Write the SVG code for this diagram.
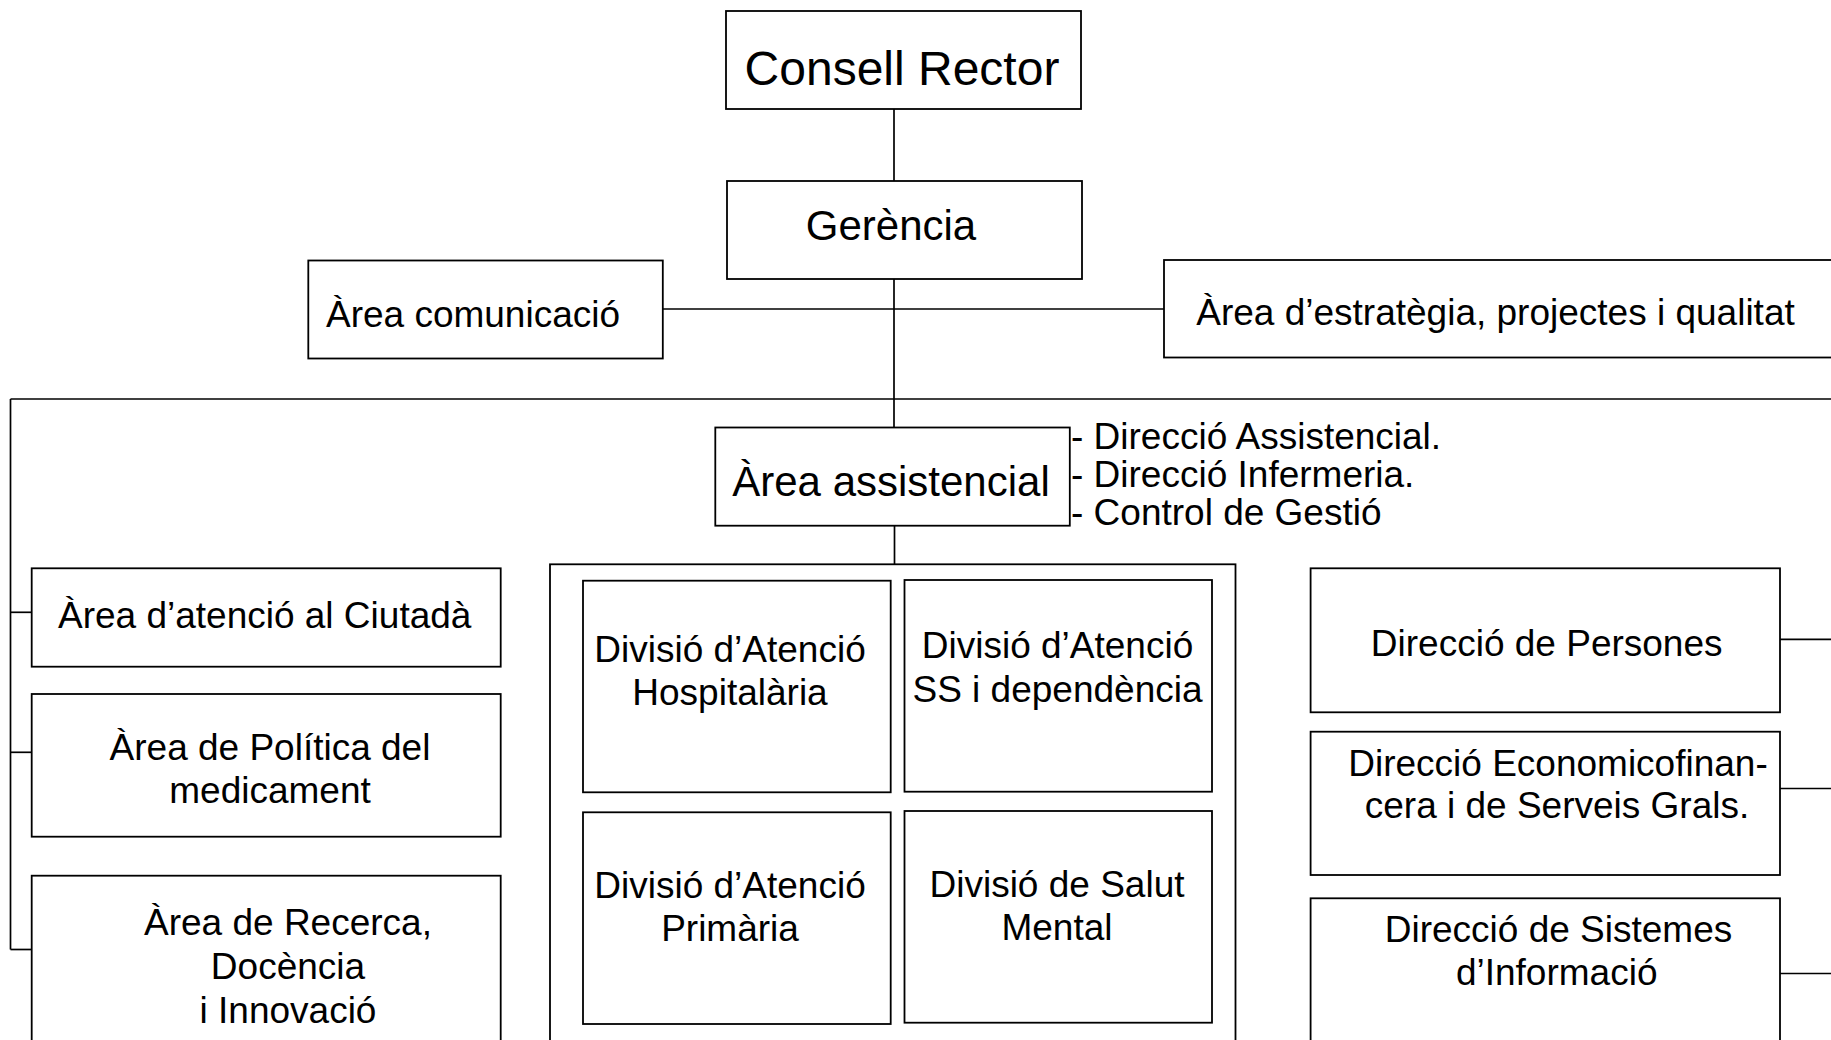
<svg xmlns="http://www.w3.org/2000/svg" width="1831" height="1040" viewBox="0 0 1831 1040">
<style>
rect.box{fill:#fff;stroke:#000;stroke-width:1.8}
rect.outer{fill:none;stroke:#000;stroke-width:1.8}
.conn line{stroke:#000;stroke-width:1.7;fill:none}
text{font-family:"Liberation Sans",Arial,sans-serif;font-size:37px;fill:#000}
text.c{text-anchor:middle}
</style>
<rect width="1831" height="1040" fill="#fff"/>
<g id="connectors" class="conn">
<line x1="894" y1="109" x2="894" y2="181"/>
<line x1="894" y1="279" x2="894" y2="427.5"/>
<line x1="663" y1="309" x2="1164" y2="309"/>
<line x1="10.5" y1="399" x2="1831" y2="399"/>
<line x1="10.5" y1="399" x2="10.5" y2="949.5"/>
<line x1="10.5" y1="612.3" x2="31.7" y2="612.3"/>
<line x1="10.5" y1="752.3" x2="31.7" y2="752.3"/>
<line x1="10.5" y1="949.5" x2="31.7" y2="949.5"/>
<line x1="894.5" y1="525.7" x2="894.5" y2="564.3"/>
<line x1="1780" y1="639.3" x2="1831" y2="639.3"/>
<line x1="1780" y1="788.5" x2="1831" y2="788.5"/>
<line x1="1780" y1="973.5" x2="1831" y2="973.5"/>
</g>
<g id="consell-rector">
<rect class="box" x="726" y="11" width="355" height="98"/>
<text class="c" x="902" y="85" style="font-size:48px">Consell Rector</text>
</g>
<g id="gerencia">
<rect class="box" x="727" y="181" width="355" height="98"/>
<text class="c" x="891" y="240" style="font-size:42px">Gerència</text>
</g>
<g id="area-comunicacio">
<rect class="box" x="308.3" y="260.5" width="354.5" height="98"/>
<text class="c" x="473" y="327">Àrea comunicació</text>
</g>
<g id="area-estrategia">
<rect class="box" x="1164" y="260" width="700" height="97.5"/>
<text class="c" x="1495.5" y="325">Àrea d’estratègia, projectes i qualitat</text>
</g>
<g id="area-assistencial">
<rect class="box" x="715.3" y="427.5" width="354.5" height="98.2"/>
<text class="c" x="891" y="496" style="font-size:42px">Àrea assistencial</text>
<text x="1071" y="449">- Direcció Assistencial.</text>
<text x="1071" y="487">- Direcció Infermeria.</text>
<text x="1071" y="525">- Control de Gestió</text>
</g>
<g id="area-atencio-ciutada">
<rect class="box" x="31.7" y="568.3" width="469" height="98.4"/>
<text class="c" x="264.7" y="628">Àrea d’atenció al Ciutadà</text>
</g>
<g id="area-politica-medicament">
<rect class="box" x="31.7" y="694" width="469" height="142.7"/>
<text class="c" x="270" y="760">Àrea de Política del</text>
<text class="c" x="270" y="802.5">medicament</text>
</g>
<g id="area-recerca">
<rect class="box" x="31.7" y="875.7" width="469" height="190"/>
<text class="c" x="288" y="934.5">Àrea de Recerca,</text>
<text class="c" x="288" y="978.5">Docència</text>
<text class="c" x="288" y="1022.5">i Innovació</text>
</g>
<g id="divisions">
<rect class="outer" x="550" y="564.3" width="685.5" height="500"/>
</g>
<g id="divisio-hospitalaria">
<rect class="box" x="583" y="580.7" width="307.7" height="211.6"/>
<text class="c" x="730" y="661.7">Divisió d’Atenció</text>
<text class="c" x="730" y="705">Hospitalària</text>
</g>
<g id="divisio-ss">
<rect class="box" x="904.5" y="580" width="307.5" height="211.7"/>
<text class="c" x="1057.5" y="658.3">Divisió d’Atenció</text>
<text class="c" x="1057.5" y="701.7">SS i dependència</text>
</g>
<g id="divisio-primaria">
<rect class="box" x="583" y="812.3" width="307.7" height="211.7"/>
<text class="c" x="730" y="898.3">Divisió d’Atenció</text>
<text class="c" x="730" y="940.5">Primària</text>
</g>
<g id="divisio-salut-mental">
<rect class="box" x="904.5" y="811" width="307.5" height="211.7"/>
<text class="c" x="1057" y="896.7">Divisió de Salut</text>
<text class="c" x="1057" y="939.5">Mental</text>
</g>
<g id="direccio-persones">
<rect class="box" x="1310.6" y="568.3" width="469.4" height="144"/>
<text class="c" x="1546.7" y="655.7">Direcció de Persones</text>
</g>
<g id="direccio-economicofinancera">
<rect class="box" x="1310.6" y="731.7" width="469.4" height="143.3"/>
<text class="c" x="1558" y="776">Direcció Economicofinan-</text>
<text class="c" x="1557" y="817.5">cera i de Serveis Grals.</text>
</g>
<g id="direccio-sistemes">
<rect class="box" x="1310.6" y="898.3" width="469.4" height="180"/>
<text class="c" x="1558.5" y="941.7">Direcció de Sistemes</text>
<text class="c" x="1556.7" y="985">d’Informació</text>
</g>
</svg>
